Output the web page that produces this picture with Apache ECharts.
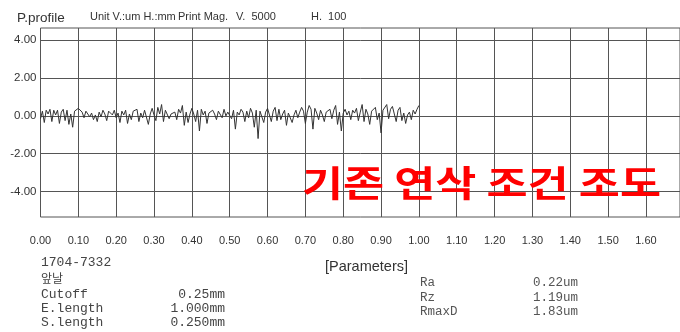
<!DOCTYPE html>
<html>
<head>
<meta charset="utf-8">
<script src="https://cdn.jsdelivr.net/npm/echarts@6/dist/echarts.min.js"></script>
<style>html,body{margin:0;padding:0;background:#fff}#c{width:680px;height:332px}</style>
</head>
<body>
<div id="c"></div>
<script>
// ---- data ----
var xTickLabels = [0.00,0.10,0.20,0.30,0.40,0.50,0.60,0.70,0.80,0.90,1.00,1.10,1.20,1.30,1.40,1.50,1.60];
var yTickLabels = [-4.00,-2.00,0.00,2.00,4.00];
var profileStep = 0.005; // mm between samples (0.00 .. 1.00)
var profileValues = [
 -0.15,0.25,-0.35,0.30,0.10,0.35,-0.30,0.30,0.05,0.30,-0.40,0.20,0.35,-0.25,0.30,-0.45,0.10,-0.60,0.25,0.15,0.40,
 0.30,0.20,-0.10,0.25,0.10,-0.05,0.15,-0.20,0.05,-0.30,0.20,-0.05,0.30,0.10,-0.25,0.25,0.35,0.05,0.30,-0.10,
 0.15,-0.35,0.25,0.05,0.30,-0.40,0.10,-0.20,0.25,0.20,0.35,-0.30,0.15,-0.10,0.30,0.20,-0.45,0.10,0.40,0.05,
 -0.25,0.45,0.10,0.60,-0.30,0.30,0.20,-0.15,0.10,0.00,0.20,-0.20,0.35,0.15,0.55,-0.50,0.20,-0.35,0.10,0.40,
 0.10,-0.30,0.30,-0.80,0.35,0.05,0.25,-0.40,0.15,0.20,0.30,0.10,-0.20,0.25,0.15,-0.10,0.35,0.00,0.20,0.25,
 -0.15,0.30,-0.70,0.20,0.05,0.35,0.20,-0.30,0.25,-0.10,0.40,0.15,-0.60,0.30,-1.20,0.25,0.35,-0.35,0.20,0.40,
 0.30,-0.30,0.25,0.45,-0.25,0.35,-0.20,0.10,0.30,-0.50,0.15,0.25,-0.35,0.05,0.30,-0.10,0.20,0.45,0.25,-0.40,
 0.20,0.55,0.35,-0.70,0.40,0.15,-0.20,0.30,0.05,-0.30,0.20,0.10,0.35,-0.15,0.30,0.55,-0.45,0.20,-0.80,0.15,
 0.35,0.05,0.25,-0.20,0.30,0.15,0.40,-0.25,0.20,0.60,-0.30,0.35,0.10,-0.45,0.25,0.30,0.45,-0.20,0.15,-0.90,
 0.30,0.20,0.60,-0.15,0.35,0.50,0.10,-0.30,0.30,0.45,-0.25,0.15,-0.40,0.05,0.20,-0.20,0.30,0.10,0.35,0.55
];
var headerTitle = 'P.profile';
var headerInfo = [['Unit V.:um H.:mm', 90], ['Print Mag.', 178], ['V.  5000', 236], ['H.  100', 311]];
var sampleId = '1704-7332';
var sampleName = '앞날';
var leftParams = [['Cutoff','0.25mm'],['E.length','1.000mm'],['S.length','0.250mm']];
var paramsTitle = '[Parameters]';
var rightParams = [['Ra','0.22um'],['Rz','1.19um'],['RmaxD','1.83um']];
var overlayText = '기존 연삭 조건 조도';

var seriesData = profileValues.map(function(v,i){ return [+(i*profileStep).toFixed(3), v]; });

var chart = echarts.init(document.getElementById('c'), null, {renderer:'canvas'});
var gridColor = '#555';
var sans = 'Liberation Sans, Arial, sans-serif';
var mono = 'Liberation Mono, Courier New, monospace';

var graphics = [];
graphics.push({type:'text', x:17, y:18, style:{text:headerTitle, font:'13.5px '+sans, fill:'#333', textVerticalAlign:'middle'}});
headerInfo.forEach(function(h){
  graphics.push({type:'text', x:h[1], y:17, style:{text:h[0], font:'11px '+sans, fill:'#333', textVerticalAlign:'middle'}});
});
graphics.push({type:'text', x:41, y:263, style:{text:sampleId, font:'13px '+mono, fill:'#444', textVerticalAlign:'middle'}});
graphics.push({type:'text', x:41, y:278, style:{text:sampleName, font:'12px "Noto Sans CJK KR"', fill:'#444', textVerticalAlign:'middle'}});
leftParams.forEach(function(p,i){
  var cy = [295,309,323][i];
  graphics.push({type:'text', x:41, y:cy, style:{text:p[0], font:'13px '+mono, fill:'#444', textVerticalAlign:'middle'}});
  graphics.push({type:'text', x:225, y:cy, style:{text:p[1], font:'13px '+mono, fill:'#444', textAlign:'right', textVerticalAlign:'middle'}});
});
graphics.push({type:'text', x:325, y:267, style:{text:paramsTitle, font:'14.5px '+sans, fill:'#333', textVerticalAlign:'middle'}});
rightParams.forEach(function(p,i){
  var cy = [283,298,312][i];
  graphics.push({type:'text', x:420, y:cy, style:{text:p[0], font:'12.5px '+mono, fill:'#555', textVerticalAlign:'middle'}});
  graphics.push({type:'text', x:533, y:cy, style:{text:p[1], font:'12.5px '+mono, fill:'#555', textVerticalAlign:'middle'}});
});
graphics.push({type:'text', x:302, y:183, scaleX:1.24, z:100,
  style:{text:overlayText, font:'bold 36px "Noto Sans CJK KR"', fill:'#ff0000', textVerticalAlign:'middle'}});

chart.setOption({
  animation:false,
  backgroundColor:'#fff',
  grid:{left:40.5, top:28, right:-2, bottom:115, show:true, borderColor:gridColor, borderWidth:1, backgroundColor:'transparent'},
  xAxis:{type:'value', min:0, max:1.69, interval:0.1,
    axisLine:{show:false}, axisTick:{show:false},
    splitLine:{show:true, lineStyle:{color:gridColor, width:1}},
    axisLabel:{customValues:xTickLabels, color:'#333', fontSize:11, fontFamily:sans, margin:18,
      formatter:function(v){ return v.toFixed(2); }}
  },
  yAxis:{type:'value', min:-5.35, max:4.65,
    axisLine:{show:false},
    axisTick:{show:false, customValues:yTickLabels},
    splitLine:{show:true, lineStyle:{color:gridColor, width:1}},
    axisLabel:{customValues:yTickLabels, color:'#333', fontSize:11.5, fontFamily:sans, margin:4,
      formatter:function(v){ return v.toFixed(2); }}
  },
  series:[{type:'line', data:seriesData, showSymbol:false, symbol:'none',
    lineStyle:{color:'#333', width:1}, z:5}],
  graphic:graphics
});
</script>
</body>
</html>
